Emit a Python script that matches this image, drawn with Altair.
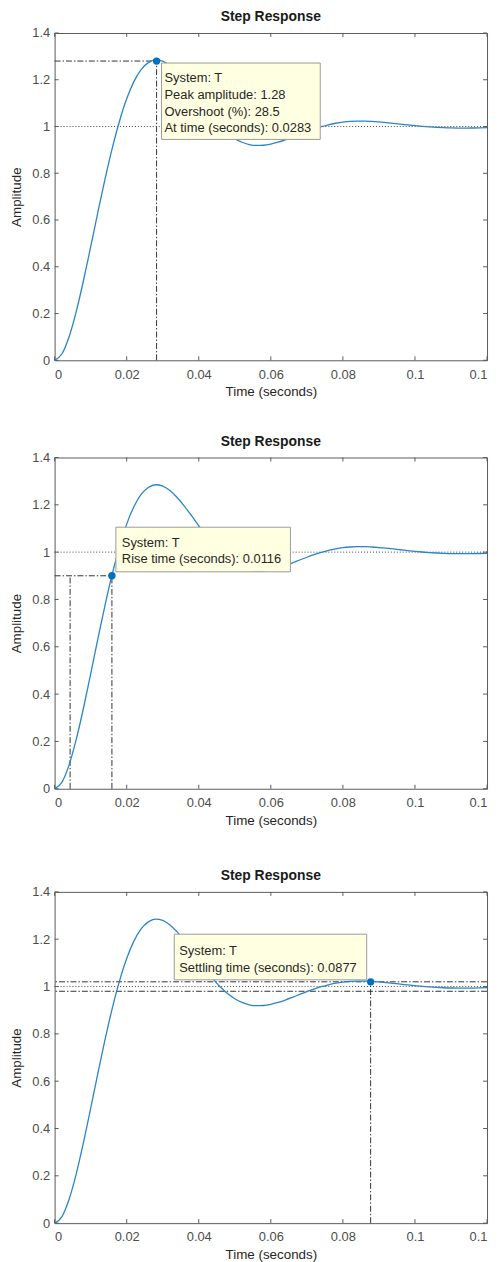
import altair as alt
import pandas as pd

# ---------------- data ----------------
time_s = [0.000, 0.002, 0.004, 0.006, 0.008, 0.010, 0.012, 0.014, 0.016, 0.018,
          0.020, 0.022, 0.024, 0.026, 0.028, 0.030, 0.032, 0.034, 0.036, 0.038,
          0.040, 0.042, 0.044, 0.046, 0.048, 0.050, 0.052, 0.054, 0.056, 0.058,
          0.060, 0.062, 0.064, 0.066, 0.068, 0.070, 0.072, 0.074, 0.076, 0.078,
          0.080, 0.082, 0.084, 0.086, 0.088, 0.090, 0.092, 0.094, 0.096, 0.098,
          0.100, 0.102, 0.104, 0.106, 0.108, 0.110, 0.112, 0.114, 0.116, 0.118,
          0.120]
amplitude = [0.0000, 0.0268, 0.1000, 0.2083, 0.3402, 0.4848, 0.6332, 0.7763, 0.9078, 1.0227,
             1.1184, 1.1920, 1.2438, 1.2733, 1.2848, 1.2794, 1.2603, 1.2310, 1.1947, 1.1541,
             1.1115, 1.0698, 1.0316, 0.9982, 0.9703, 0.9483, 0.9327, 0.9230, 0.9190, 0.9199,
             0.9248, 0.9328, 0.9430, 0.9546, 0.9667, 0.9784, 0.9894, 0.9992, 1.0075, 1.0140,
             1.0188, 1.0217, 1.0230, 1.0230, 1.0217, 1.0195, 1.0167, 1.0135, 1.0101, 1.0066,
             1.0035, 1.0006, 0.9982, 0.9963, 0.9949, 0.9939, 0.9935, 0.9934, 0.9937, 0.9943,
             0.9951]

x_ticks = [0, 0.02, 0.04, 0.06, 0.08, 0.1, 0.12]
y_ticks = [0, 0.2, 0.4, 0.6, 0.8, 1, 1.2, 1.4]

system_name = "T"
final_value = 1.0
peak_time = 0.0283
peak_amp = 1.28
overshoot_pct = 28.5
rise_t10 = 0.0043
rise_t90 = 0.0159
rise_level = 0.9
rise_time = 0.0116
settle_time = 0.0877
settle_amp = 1.02
settle_band = [0.98, 1.02]

# ---------------- styling ----------------
W = 436
H1, H2, H3 = 330, 334, 334
TICK = 4
FONT = "Liberation Sans"
CURVE = "#2b84c6"
MARK_BLUE = "#0072BD"
FRAME = "#5a5a5a"
DASHDOT = [6, 2, 1.5, 2]
TIP_FILL = "#FFFFE1"
TIP_STROKE = "#9a9a9a"
TIP_TEXT = "#262626"

xscale = alt.Scale(domain=[0, 0.12], nice=False, zero=False)
yscale = alt.Scale(domain=[0, 1.4], nice=False, zero=False)
xaxis = alt.Axis(values=x_ticks, format="~g", title="Time (seconds)", grid=False,
                 domain=False, ticks=False, tickSize=0, labelPadding=8, titlePadding=4)
yaxis = alt.Axis(values=y_ticks, format="~g", title="Amplitude", grid=False,
                 domain=False, ticks=False, tickSize=0, labelPadding=5, titlePadding=8)


def X(f):
    return alt.X(f, type="quantitative", scale=xscale, axis=xaxis)


def Y(f):
    return alt.Y(f, type="quantitative", scale=yscale, axis=yaxis)


curve_df = pd.DataFrame({"t": time_s, "y": amplitude})
xt_df = pd.DataFrame({"t": x_ticks})
yt_df = pd.DataFrame({"y": y_ticks})


def frame_ticks(H):
    st = dict(color=FRAME, strokeWidth=1)
    b = alt.Chart(xt_df).mark_rule(**st).encode(x=X("t"), y=alt.value(H), y2=alt.value(H - TICK))
    t = alt.Chart(xt_df).mark_rule(**st).encode(x=X("t"), y=alt.value(0), y2=alt.value(TICK))
    l = alt.Chart(yt_df).mark_rule(**st).encode(y=Y("y"), x=alt.value(0), x2=alt.value(TICK))
    r = alt.Chart(yt_df).mark_rule(**st).encode(y=Y("y"), x=alt.value(W), x2=alt.value(W - TICK))
    return [b, t, l, r]


def curve():
    return alt.Chart(curve_df).mark_line(color=CURVE, strokeWidth=1.3, interpolate="monotone").encode(
        x=X("t"), y=Y("y"))


def hfull(values, dash, color="#444444"):
    return alt.Chart(pd.DataFrame({"y": values})).mark_rule(
        color=color, strokeDash=dash, strokeWidth=1).encode(y=Y("y"))


def hseg(x0, x1, y):
    return alt.Chart(pd.DataFrame({"x0": [x0], "x1": [x1], "y": [y]})).mark_rule(
        color="#333333", strokeDash=DASHDOT, strokeWidth=1).encode(x=X("x0"), x2="x1", y=Y("y"))


def vseg(x, y0, y1):
    return alt.Chart(pd.DataFrame({"x": [x], "y0": [y0], "y1": [y1]})).mark_rule(
        color="#333333", strokeDash=DASHDOT, strokeWidth=1).encode(x=X("x"), y=Y("y0"), y2="y1")


def datatip(x, y, lines, box, text_dx, text_dy, line_h):
    df = pd.DataFrame({"x": [x], "y": [y]})
    rect = alt.Chart(df).mark_rect(
        fill=TIP_FILL, stroke=TIP_STROKE, strokeWidth=1,
        xOffset=box[0], x2Offset=box[1], yOffset=box[2], y2Offset=box[3]
    ).encode(x=X("x"), x2="x", y=Y("y"), y2="y")
    txt = alt.Chart(df).mark_text(
        text=lines, align="left", baseline="alphabetic", dx=text_dx, dy=text_dy,
        lineHeight=line_h, fontSize=13, font=FONT, color=TIP_TEXT
    ).encode(x=X("x"), y=Y("y"))
    dot = alt.Chart(df).mark_circle(size=55, color=MARK_BLUE, opacity=1).encode(x=X("x"), y=Y("y"))
    return [rect, txt, dot]


title = alt.TitleParams("Step Response", anchor="middle")

# Panel 1: peak response
p1_lines = [f"System: {system_name}", f"Peak amplitude: {peak_amp}",
            f"Overshoot (%): {overshoot_pct}", f"At time (seconds): {peak_time}"]
p1 = alt.layer(
    hfull([final_value], [1, 2]),
    hseg(0, peak_time, peak_amp),
    vseg(peak_time, 0, peak_amp),
    curve(),
    *frame_ticks(H1),
    *datatip(peak_time, peak_amp, p1_lines, (5, 165, 2, 79), 8, 21.5, 16.7),
).properties(width=W, height=H1, title=title)

# Panel 2: rise time
p2_lines = [f"System: {system_name}", f"Rise time (seconds): {rise_time}"]
p2 = alt.layer(
    hfull([final_value], [1, 2]),
    hseg(0, rise_t90, rise_level),
    vseg(rise_t10, 0, rise_level),
    vseg(rise_t90, 0, rise_level),
    curve(),
    *frame_ticks(H2),
    *datatip(rise_t90, rise_level, p2_lines, (4, 180, -49, -4), 10, -29.5, 17),
).properties(width=W, height=H2, title=title)

# Panel 3: settling time
p3_lines = [f"System: {system_name}", f"Settling time (seconds): {settle_time}"]
p3 = alt.layer(
    hfull([final_value], [1, 2]),
    hfull(settle_band, DASHDOT, "#333333"),
    vseg(settle_time, 0, settle_amp),
    curve(),
    *frame_ticks(H3),
    *datatip(settle_time, settle_amp, p3_lines, (-198, -4, -48, -2), -193, -27.5, 18),
).properties(width=W, height=H3, title=title)

top_pair = alt.vconcat(p1, p2, spacing=35)
chart = alt.vconcat(top_pair, p3, spacing=41).properties(
    padding={"left": 1, "top": -4, "right": 0, "bottom": 0}
).configure_view(
    stroke=FRAME, strokeWidth=1
).configure_axis(
    labelFont=FONT, labelFontSize=13, labelColor="#4d4d4d",
    titleFont=FONT, titleFontSize=13.5, titleColor="#262626", titleFontWeight="normal"
).configure_title(
    font=FONT, fontSize=14, fontWeight="bold", color="#1a1a1a", offset=3
)

chart.save("out.html", embed_options={"renderer": "svg", "actions": False})
